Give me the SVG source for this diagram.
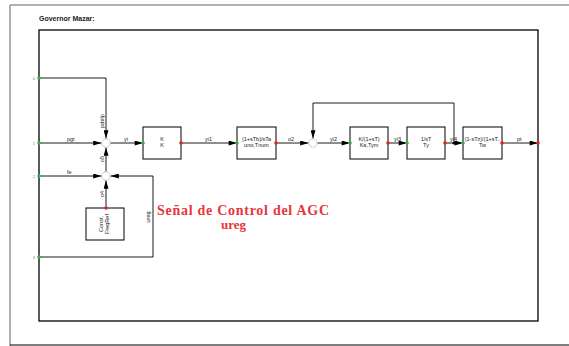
<svg xmlns="http://www.w3.org/2000/svg" width="569" height="346" viewBox="0 0 569 346">
<style>
.frame{fill:none;stroke:#000;stroke-width:1.3}
.blk{fill:#fff;stroke:#000;stroke-width:1}
.w{fill:none;stroke:#000;stroke-width:0.9}
.bt{font-family:"Liberation Sans",Arial,sans-serif;font-size:5.5px;fill:#222;text-anchor:middle}
.lbl{font-family:"Liberation Sans",Arial,sans-serif;font-size:5.5px;fill:#222}
.pl{font-family:"Liberation Sans",Arial,sans-serif;font-size:4px;fill:#777}
.sum{fill:#fff;stroke:#999;stroke-width:0.8;stroke-dasharray:1.5 1}
.gi{fill:#2db34a}
.ro{fill:#e8231f}
</style>
<defs>
<marker id="ar" viewBox="0 0 10 6" refX="10" refY="3" markerWidth="9" markerHeight="5" markerUnits="userSpaceOnUse" orient="auto">
<path d="M0,0 L10,3 L0,6 Z" fill="#000"/>
</marker>
</defs>
<rect width="569" height="346" fill="#fff"/>
<path d="M10,346 L10,5 L569,5" fill="none" stroke="#666" stroke-width="1"/>
<line x1="10" y1="345" x2="569" y2="345" stroke="#000" stroke-width="1"/>
<text x="39" y="21" font-family="Liberation Sans,Arial,sans-serif" font-size="7" font-weight="bold" fill="#222">Governor Mazar:</text>
<rect class="frame" x="39" y="30" width="499" height="291"/>

<g id="connectors">
<path class="w" d="M39,78 H106 V138.5" marker-end="url(#ar)"/>
<path class="w" d="M39,143 H101.5" marker-end="url(#ar)"/>
<path class="w" d="M106,171.5 V147.5" marker-end="url(#ar)"/>
<path class="w" d="M39,176 H101.5" marker-end="url(#ar)"/>
<path class="w" d="M39,257 H153 V176 H110.5" marker-end="url(#ar)"/>
<path class="w" d="M106,208 V180.5" marker-end="url(#ar)"/>
<path class="w" d="M110.5,143 H143" marker-end="url(#ar)"/>
<path class="w" d="M181,143 H237" marker-end="url(#ar)"/>
<path class="w" d="M276,143 H308.5" marker-end="url(#ar)"/>
<path class="w" d="M454,143 V103 H313 V138.5" marker-end="url(#ar)"/>
<path class="w" d="M317.5,143 H350" marker-end="url(#ar)"/>
<path class="w" d="M388,143 H407" marker-end="url(#ar)"/>
<path class="w" d="M445,143 H463" marker-end="url(#ar)"/>
<path class="w" d="M502,143 H538" marker-end="url(#ar)"/>
<circle cx="454" cy="143" r="1.6" fill="#000"/>
<text class="lbl" x="67" y="141">pgt</text>
<text class="lbl" x="67" y="174">fe</text>
<text class="lbl" x="124" y="141">yi</text>
<text class="lbl" x="205" y="141">yi1</text>
<text class="lbl" x="288" y="141">o2</text>
<text class="lbl" x="330" y="141">yi2</text>
<text class="lbl" x="394" y="141">yi3</text>
<text class="lbl" x="450" y="141">yi4</text>
<text class="lbl" x="517" y="141">pt</text>
<text class="lbl" transform="translate(104,121) rotate(-90)" text-anchor="middle">pdelp</text>
<text class="lbl" transform="translate(104,159) rotate(-90)" text-anchor="middle">o5</text>
<text class="lbl" transform="translate(104,194) rotate(-90)" text-anchor="middle">o4</text>
<text class="lbl" transform="translate(150,217) rotate(-90)" text-anchor="middle">ureg</text>
<text class="pl" x="315" y="136">-</text>
</g>

<g id="sum1"><circle class="sum" cx="106" cy="143" r="4.2"/></g>
<g id="sum2"><circle class="sum" cx="106" cy="176" r="4.2"/></g>
<g id="sum3"><circle class="sum" cx="313" cy="143" r="4.2"/></g>

<g id="in0"><circle class="gi" cx="39" cy="78" r="1.8"/><text class="pl" x="35" y="79.5" text-anchor="end">0</text></g>
<g id="in1"><circle class="gi" cx="39" cy="143" r="1.8"/><text class="pl" x="35" y="144.5" text-anchor="end">1</text></g>
<g id="in2"><circle class="gi" cx="39" cy="176" r="1.8"/><text class="pl" x="35" y="177.5" text-anchor="end">2</text></g>
<g id="in3"><circle class="gi" cx="39" cy="257" r="1.8"/><text class="pl" x="35" y="258.5" text-anchor="end">3</text></g>
<g id="out0"><circle class="ro" cx="538" cy="143" r="1.8"/></g>

<g id="blockK">
<rect class="blk" x="143" y="127" width="38" height="32"/>
<text class="bt" x="162" y="141">K</text><text class="bt" x="162" y="147">K</text>
<circle class="gi" cx="143" cy="143" r="1.8"/><circle class="ro" cx="181" cy="143" r="1.8"/>
</g>
<g id="blockLead">
<rect class="blk" x="237" y="127" width="39" height="32"/>
<text class="bt" x="256.5" y="141">(1+sTb)/sTa</text><text class="bt" x="256.5" y="147">uno,Tnum</text>
<circle class="gi" cx="237" cy="143" r="1.8"/><circle class="ro" cx="276" cy="143" r="1.8"/>
</g>
<g id="blockKa">
<rect class="blk" x="350" y="127" width="38" height="32"/>
<text class="bt" x="369" y="141">K/(1+sT)</text><text class="bt" x="369" y="147">Ka,Tym</text>
<circle class="gi" cx="350" cy="143" r="1.8"/><circle class="ro" cx="388" cy="143" r="1.8"/>
</g>
<g id="blockTy">
<rect class="blk" x="407" y="127" width="38" height="32"/>
<text class="bt" x="426" y="141">1/sT</text><text class="bt" x="426" y="147">Ty</text>
<circle class="gi" cx="407" cy="143" r="1.8"/><circle class="ro" cx="445" cy="143" r="1.8"/>
</g>
<g id="blockTw">
<rect class="blk" x="463" y="127" width="39" height="32"/>
<text class="bt" x="482.5" y="141">(1-sTz)/(1+sT..</text><text class="bt" x="482.5" y="147">Tw</text>
<circle class="gi" cx="463" cy="143" r="1.8"/><circle class="ro" cx="502" cy="143" r="1.8"/>
</g>
<g id="blockConst">
<rect class="blk" x="86" y="208" width="38" height="32"/>
<text class="bt" transform="translate(103,224) rotate(-90)">Const.</text>
<text class="bt" transform="translate(109,224) rotate(-90)">FreqRef</text>
<circle class="ro" cx="106" cy="208" r="1.8"/>
</g>

<g id="note" font-family="Liberation Serif,Times New Roman,serif" font-weight="bold" fill="#e8343a">
<text x="157" y="215" font-size="14" textLength="172" lengthAdjust="spacing">Señal de Control del AGC</text>
<text x="221" y="229" font-size="13">ureg</text>
</g>
</svg>
